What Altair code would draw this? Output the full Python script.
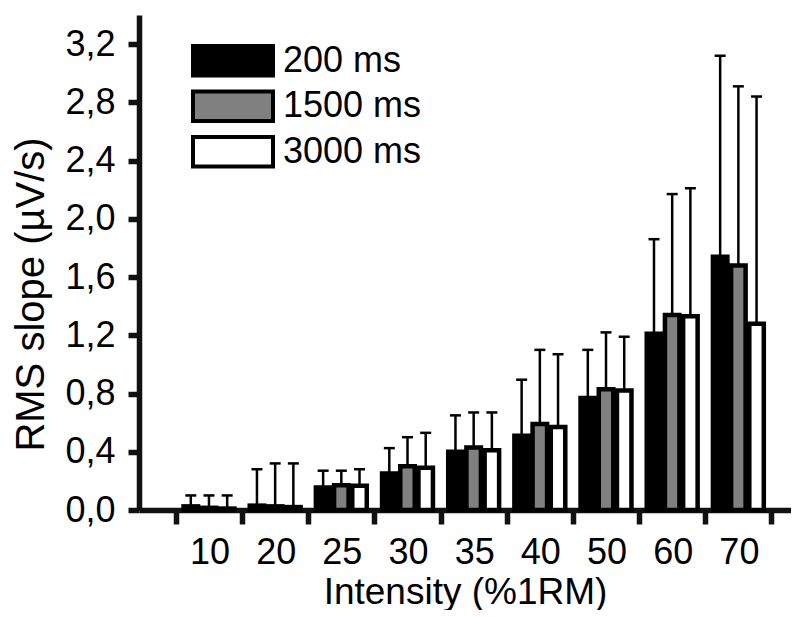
import altair as alt
import pandas as pd

categories = ["10", "20", "25", "30", "35", "40", "50", "60", "70"]
series = ["200 ms", "1500 ms", "3000 ms"]
fills = ["#000000", "#808080", "#ffffff"]

mean_200 = [0.025, 0.03, 0.155, 0.25, 0.40, 0.51, 0.77, 1.21, 1.74]
mean_1500 = [0.015, 0.025, 0.17, 0.30, 0.43, 0.59, 0.83, 1.34, 1.68]
mean_3000 = [0.01, 0.02, 0.167, 0.29, 0.41, 0.57, 0.82, 1.33, 1.28]

sd_200 = [0.075, 0.25, 0.115, 0.175, 0.25, 0.385, 0.33, 0.65, 1.38]
sd_1500 = [0.085, 0.295, 0.10, 0.20, 0.24, 0.51, 0.39, 0.83, 1.23]
sd_3000 = [0.09, 0.30, 0.113, 0.24, 0.26, 0.50, 0.37, 0.88, 1.56]

FONT = "Liberation Sans, Arial, sans-serif"
AXIS_COLOR = "#111111"
OFFSET = 0.275  # bar offset within a group, in category units
W = 652
H = 495
X_DOMAIN = [-0.982, 8.72]
STEP_PX = W / (X_DOMAIN[1] - X_DOMAIN[0])

rows = []
for s_idx, (name, means, sds) in enumerate(
    [(series[0], mean_200, sd_200), (series[1], mean_1500, sd_1500), (series[2], mean_3000, sd_3000)]
):
    for c_idx, cat in enumerate(categories):
        rows.append({
            "cat": cat,
            "series": name,
            "pos": c_idx + (s_idx - 1) * OFFSET,
            "mean": means[c_idx],
            "top": means[c_idx] + sds[c_idx],
        })
df = pd.DataFrame(rows)

color = alt.Color("series:N", scale=alt.Scale(domain=series, range=fills), legend=None)

# x ticks sit on the group boundaries; labels are shifted half a step onto the groups
x_vals = [i - 0.5 for i in range(len(categories) + 1)]
x_label_expr = ""
for i, c in enumerate(categories):
    x_label_expr += f"datum.value === {i - 0.5} ? '{c}' : "
x_label_expr += "''"

x_axis = alt.Axis(
    values=x_vals,
    labelExpr=x_label_expr,
    labelOffset=STEP_PX / 2,
    title="Intensity (%1RM)",
    grid=False,
    labelOverlap=False,
    labelFlush=False,
    labelBound=False,
    tickSize=14,
    tickWidth=5.5,
    tickColor=AXIS_COLOR,
    domainWidth=5.5,
    domainColor=AXIS_COLOR,
    labelPadding=39,
    labelBaseline="alphabetic",
    labelFontSize=36,
    titleY=93,
    titleBaseline="alphabetic",
    titleFontSize=37,
)
x_scale = alt.Scale(domain=X_DOMAIN, nice=False, zero=False)

major = "abs(datum.value/0.4 - round(datum.value/0.4)) < 0.001"
y_vals = [round(0.2 * k, 1) for k in range(18)]
y_axis = alt.Axis(
    values=y_vals,
    labelExpr=f"{major} ? replace(format(datum.value, '.1f'), '.', ',') : ''",
    title="RMS slope (\u00b5V/s)",
    grid=False,
    tickSize=11,
    tickWidth=5.5,
    tickColor=AXIS_COLOR,
    domainWidth=5.5,
    domainColor=AXIS_COLOR,
    labelPadding=13,
    labelFontSize=36,
    titleX=-108,
    titleY=279,
    titleAngle=270,
    titleBaseline="middle",
    titleAlign="center",
    titleFontSize=40,
)
y_scale = alt.Scale(domain=[0, 3.4], nice=False)

base = alt.Chart(df)
rules = base.mark_rule(color="black", strokeWidth=2.5).encode(
    x=alt.X("pos:Q", scale=x_scale, axis=x_axis),
    y=alt.Y("mean:Q", scale=y_scale, axis=y_axis),
    y2="top:Q",
)
caps = base.mark_point(
    shape="M-1,0L1,0", size=121, filled=False, color="black", strokeWidth=2.5, opacity=1
).encode(
    x=alt.X("pos:Q", scale=x_scale),
    y=alt.Y("top:Q", scale=y_scale),
)
bars = base.mark_bar(size=14.5, stroke="black", strokeWidth=4.5).encode(
    x=alt.X("pos:Q", scale=x_scale),
    y=alt.Y("mean:Q", scale=y_scale),
    fill=color,
)

# legend drawn inside the plot, upper left (pixel layout, not data)
LEG_X0, LEG_X1, LEG_TX = 54, 134, 144
LEG_TOP, LEG_BOX_H, LEG_STEP = 31, 29.5, 45.5
legend_parts = []
for i, name in enumerate(series):
    one = alt.Chart(pd.DataFrame({"series": [name]}))
    y0 = LEG_TOP + i * LEG_STEP
    legend_parts.append(
        one.mark_rect(stroke="black", strokeWidth=4).encode(
            x=alt.value(LEG_X0), x2=alt.value(LEG_X1),
            y=alt.value(y0), y2=alt.value(y0 + LEG_BOX_H), fill=color,
        )
    )
    legend_parts.append(
        one.mark_text(align="left", baseline="middle", font=FONT, fontSize=36, color="black").encode(
            x=alt.value(LEG_TX), y=alt.value(y0 + LEG_BOX_H / 2), text="series:N"
        )
    )

chart = (
    alt.layer(rules, caps, bars, *legend_parts)
    .properties(
        width=W,
        height=H,
        autosize=alt.AutoSizeParams(type="none"),
        padding={"left": 131, "top": 7, "right": 0, "bottom": 100},
        background="white",
    )
    .configure_view(stroke=None)
    .configure_axis(
        labelFont=FONT,
        titleFont=FONT,
        titleFontWeight="normal",
    )
)

chart.save("out.html", embed_options={"renderer": "svg", "actions": False})
